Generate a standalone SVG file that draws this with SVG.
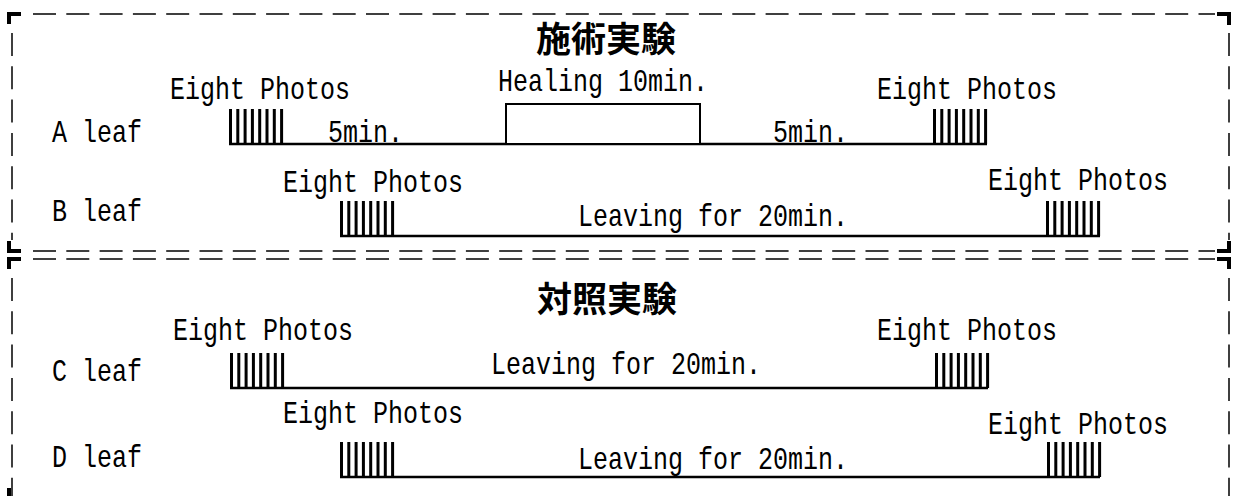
<svg xmlns="http://www.w3.org/2000/svg" width="1235" height="496" viewBox="0 0 1235 496">
<style>
.t{font-family:"Liberation Mono","DejaVu Sans Mono",monospace;font-size:32px;fill:#000}
.ttl{font-family:"Noto Sans CJK JP","Noto Sans CJK SC",sans-serif;font-size:35px;font-weight:700;fill:#000}
.dash{stroke:#000;stroke-width:1.5;stroke-dasharray:23 10.3;fill:none}
.corner{stroke:#000;stroke-width:4;fill:none}
.line{stroke:#000;stroke-width:2.5;fill:none}
.tick{stroke:#000;stroke-width:3}
.box{stroke:#000;stroke-width:2;fill:#fff}
</style>
<defs>
<g id="ticks">
<path class="tick" d="M1.5 0V35M8.8 0V35M16.1 0V35M23.4 0V35M30.7 0V35M38 0V35M45.3 0V35M52.6 0V35"/>
</g>
</defs>
<rect width="1235" height="496" fill="#fff"/>
<g id="frames">
<path class="dash" d="M33 14H1215M33 251H1215M33 259H1215"/>
<path class="dash" d="M12 33V240M1229 33V240M12 278V496M1229 278V496"/>
<path class="corner" d="M9 24V14H21M1217 14H1229V25M9 241V251H21M1217 251H1229V241M9 269V259H21M1217 259H1229V269M9 488V496"/>
</g>
<g id="connectors">
<path class="line" d="M229 144H987M340 236H1100M230 388H988M340 477H1100"/>
<use href="#ticks" x="229" y="109"/>
<use href="#ticks" x="933" y="109"/>
<use href="#ticks" x="340" y="201"/>
<use href="#ticks" x="1046" y="201"/>
<use href="#ticks" x="230" y="353"/>
<use href="#ticks" x="935" y="353"/>
<use href="#ticks" x="340" y="442"/>
<use href="#ticks" x="1047" y="442"/>
</g>
<g id="title1"><text class="ttl" x="606" y="52" text-anchor="middle">施術実験</text></g>
<g id="title2"><text class="ttl" x="607" y="312" text-anchor="middle">対照実験</text></g>
<g id="rowA">
<text class="t" x="52" y="142" textLength="90" lengthAdjust="spacingAndGlyphs">A leaf</text>
<text class="t" x="170" y="99" textLength="180" lengthAdjust="spacingAndGlyphs">Eight Photos</text>
<text class="t" x="328" y="142" textLength="75" lengthAdjust="spacingAndGlyphs">5min.</text>
<rect class="box" x="506" y="104" width="194" height="40"/>
<text class="t" x="498" y="91" textLength="210" lengthAdjust="spacingAndGlyphs">Healing 10min.</text>
<text class="t" x="773" y="142" textLength="75" lengthAdjust="spacingAndGlyphs">5min.</text>
<text class="t" x="877" y="99" textLength="180" lengthAdjust="spacingAndGlyphs">Eight Photos</text>
</g>
<g id="rowB">
<text class="t" x="52" y="221" textLength="90" lengthAdjust="spacingAndGlyphs">B leaf</text>
<text class="t" x="283" y="192" textLength="180" lengthAdjust="spacingAndGlyphs">Eight Photos</text>
<text class="t" x="578" y="226" textLength="270" lengthAdjust="spacingAndGlyphs">Leaving for 20min.</text>
<text class="t" x="988" y="190" textLength="180" lengthAdjust="spacingAndGlyphs">Eight Photos</text>
</g>
<g id="rowC">
<text class="t" x="52" y="381" textLength="90" lengthAdjust="spacingAndGlyphs">C leaf</text>
<text class="t" x="173" y="340" textLength="180" lengthAdjust="spacingAndGlyphs">Eight Photos</text>
<text class="t" x="491" y="374" textLength="270" lengthAdjust="spacingAndGlyphs">Leaving for 20min.</text>
<text class="t" x="877" y="340" textLength="180" lengthAdjust="spacingAndGlyphs">Eight Photos</text>
</g>
<g id="rowD">
<text class="t" x="52" y="467" textLength="90" lengthAdjust="spacingAndGlyphs">D leaf</text>
<text class="t" x="283" y="423" textLength="180" lengthAdjust="spacingAndGlyphs">Eight Photos</text>
<text class="t" x="578" y="469" textLength="270" lengthAdjust="spacingAndGlyphs">Leaving for 20min.</text>
<text class="t" x="988" y="434" textLength="180" lengthAdjust="spacingAndGlyphs">Eight Photos</text>
</g>
</svg>
